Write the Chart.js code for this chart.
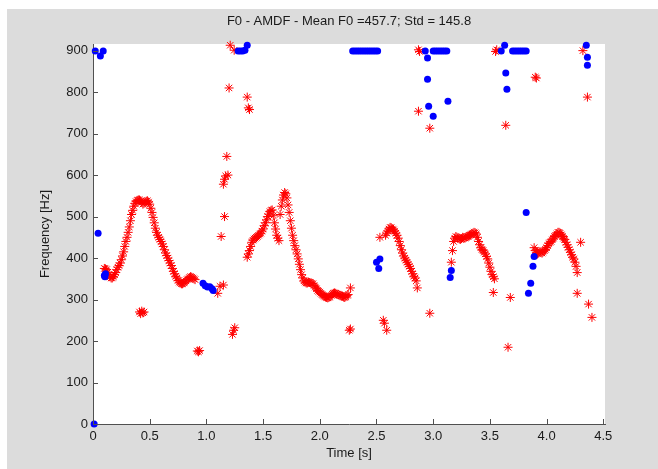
<!DOCTYPE html>
<html>
<head>
<meta charset="utf-8">
<script src="https://cdn.jsdelivr.net/npm/chart.js@4/dist/chart.umd.min.js"></script>
<style>
    body { margin: 0; background: #fff; }
    canvas { display: block; }
</style>
</head>
<body>
<canvas id="f0Chart" width="658" height="469"></canvas>
<script>
// F0 estimates (AMDF) - red stars: picked pitch, blue dots: other candidates
const redTime = [
    0.10, 0.12, 0.14, 0.16, 0.18, 0.20, 0.22, 0.24, 0.26, 0.28, 0.30, 0.32, 0.34, 0.36, 0.38, 0.40, 0.42, 0.44, 0.46, 0.48,
    0.50, 0.52, 0.54, 0.56, 0.58, 0.60, 0.62, 0.64, 0.66, 0.68, 0.70, 0.72, 0.74, 0.76, 0.78, 0.80, 0.82, 0.84, 0.86, 0.88, 0.90,
    0.41, 0.42, 0.43, 0.44, 0.45, 0.92, 0.93, 0.94,
    1.10, 1.12, 1.13, 1.15, 1.16, 1.15, 1.16, 1.17, 1.18, 1.19, 1.20, 1.21, 1.245, 1.23, 1.24, 1.25, 1.36, 1.37, 1.38,
    1.36, 1.38, 1.40, 1.42, 1.44, 1.46, 1.48, 1.50, 1.52, 1.54, 1.56, 1.58, 1.60, 1.62, 1.64, 1.65, 1.67, 1.68, 1.69, 1.70,
    1.71, 1.72, 1.74, 1.76, 1.78, 1.80, 1.82, 1.84, 1.86, 1.88, 1.90, 1.92, 1.94, 1.96, 1.98, 2.00, 2.02, 2.04, 2.06, 2.08,
    2.10, 2.12, 2.14, 2.16, 2.18, 2.20, 2.22, 2.24, 2.27, 2.26, 2.27,
    2.53, 2.58, 2.60, 2.62, 2.64, 2.66, 2.68, 2.70, 2.72, 2.74, 2.76, 2.78, 2.80, 2.82, 2.84, 2.86,
    2.56, 2.57, 2.59, 2.87, 2.88, 2.87, 2.97, 2.97,
    3.16, 3.17, 3.18, 3.20, 3.22, 3.24, 3.26, 3.28, 3.30, 3.32, 3.34, 3.36, 3.38, 3.40, 3.42, 3.44, 3.46, 3.48, 3.50, 3.52,
    3.54, 3.53,
    3.55, 3.56, 3.64, 3.66, 3.68, 3.90, 3.91,
    3.89, 3.90, 3.92, 3.94, 3.96, 3.98, 4.00, 4.02, 4.04, 4.06, 4.08, 4.10, 4.12, 4.14, 4.16, 4.18, 4.20, 4.22, 4.24, 4.26,
    4.27,
    4.30, 4.27, 4.37, 4.40, 4.32, 4.36,
    // in-between frames
    0.11, 0.13, 0.15, 0.17, 0.19, 0.21, 0.23, 0.25, 0.27, 0.29, 0.31, 0.33, 0.35, 0.37, 0.39, 0.41, 0.43, 0.45, 0.47, 0.49,
    0.51, 0.53, 0.55, 0.57, 0.59, 0.61, 0.63, 0.65, 0.67, 0.69, 0.71, 0.73, 0.75, 0.77, 0.79, 0.81, 0.83, 0.85, 0.87, 0.89,
    1.37, 1.39, 1.41, 1.43, 1.45, 1.47, 1.49, 1.51, 1.53, 1.55, 1.57, 1.59, 1.61, 1.63, 1.66, 1.73, 1.75, 1.77, 1.79, 1.81,
    1.83, 1.85, 1.87, 1.89, 1.91, 1.93, 1.95, 1.97, 1.99, 2.01, 2.03, 2.05, 2.07, 2.09, 2.11, 2.13, 2.15, 2.17, 2.19, 2.21,
    2.23, 2.25,
    2.59, 2.61, 2.63, 2.65, 2.67, 2.69, 2.71, 2.73, 2.75, 2.77, 2.79, 2.81, 2.83, 2.85,
    3.19, 3.21, 3.23, 3.25, 3.27, 3.29, 3.31, 3.33, 3.35, 3.37, 3.39, 3.41, 3.43, 3.45, 3.47, 3.49, 3.51, 3.53,
    3.91, 3.93, 3.95, 3.97, 3.99, 4.01, 4.03, 4.05, 4.07, 4.09, 4.11, 4.13, 4.15, 4.17, 4.19, 4.21, 4.23, 4.25
];
const redFreq = [
    375, 372, 360, 352, 355, 365, 378, 388, 405, 428, 450, 475, 505, 525, 536, 540, 538, 530, 535, 538,
    530, 510, 485, 462, 450, 440, 428, 412, 400, 388, 375, 362, 352, 342, 338, 340, 345, 350, 355, 352, 348,
    270, 266, 272, 268, 270, 176, 174, 177,
    315, 332, 452, 335, 500, 578, 590, 598, 645, 600, 810, 913, 901, 216, 226, 232, 788, 762, 758,
    402, 418, 438, 446, 450, 455, 460, 470, 485, 500, 512, 516, 485, 455, 442, 505, 540, 552, 558, 555,
    545, 528, 490, 455, 430, 410, 385, 360, 345, 340, 342, 340, 338, 330, 322, 318, 312, 308, 305, 305,
    310, 315, 315, 312, 310, 308, 305, 310, 328, 226, 229,
    450, 455, 465, 474, 470, 465, 455, 440, 420, 405, 395, 385, 375, 362, 352, 328,
    250, 243, 226, 902, 898, 754, 713, 267,
    390, 418, 440, 452, 448, 445, 450, 448, 452, 455, 458, 462, 458, 440, 425, 418, 410, 398, 378, 360,
    350, 317,
    898, 902, 720, 185, 305, 836, 834,
    425, 418, 410, 415, 412, 418, 425, 435, 440, 448, 455, 462, 460, 452, 445, 432, 420, 408, 398, 380,
    365,
    438, 315, 289, 257, 900, 788,
    // in-between frames
    374, 366, 355, 352, 360, 372, 382, 396, 415, 440, 462, 490, 515, 532, 539, 540, 534, 532, 537, 535,
    520, 498, 472, 455, 445, 434, 420, 406, 394, 382, 368, 356, 346, 340, 338, 342, 348, 353, 354, 350,
    410, 428, 443, 448, 452, 458, 465, 478, 492, 506, 515, 502, 470, 448, 525, 510, 472, 442, 420, 398,
    372, 352, 342, 340, 341, 339, 334, 326, 320, 315, 310, 306, 304, 307, 313, 316, 313, 311, 309, 306,
    307, 312,
    460, 470, 473, 468, 460, 448, 430, 412, 400, 390, 380, 368, 356, 345,
    448, 450, 446, 447, 449, 450, 453, 456, 460, 461, 450, 432, 421, 414, 404, 388, 368, 355,
    414, 412, 414, 415, 421, 430, 438, 444, 452, 458, 462, 456, 448, 438, 426, 414, 402, 390
];

const blueTime = [
    0.01, 0.045, 0.02, 0.09, 0.065, 0.10, 0.11, 0.105,
    0.97, 0.99, 1.01, 1.03, 1.05, 1.06,
    1.28, 1.30, 1.32, 1.34, 1.36,
    2.29, 2.31, 2.33, 2.35, 2.37, 2.39, 2.41, 2.43, 2.45, 2.47, 2.49, 2.51,
    2.50, 2.53, 2.52,
    2.93, 2.95, 2.95, 2.96, 3.00, 3.13,
    3.00, 3.02, 3.04, 3.06, 3.08, 3.10, 3.12,
    3.16, 3.15,
    3.60, 3.63, 3.64, 3.65,
    3.70, 3.72, 3.74, 3.76, 3.78, 3.80, 3.82,
    3.82, 3.89, 3.88, 3.86, 3.84,
    4.35, 4.36, 4.36
];
const blueFreq = [
    0, 460, 899, 899, 887, 358, 362, 355,
    339, 333, 330, 331, 326, 322,
    899, 899, 899, 901, 913,
    899, 899, 899, 899, 899, 899, 899, 899, 899, 899, 899, 899,
    390, 398, 375,
    899, 882, 831, 766, 742, 778,
    899, 899, 899, 899, 899, 899, 899,
    370, 353,
    899, 913, 846, 807,
    899, 899, 899, 899, 899, 899, 899,
    510, 404, 380, 339, 315,
    913, 884, 865
];

const xTicks = [0, 0.5, 1, 1.5, 2, 2.5, 3, 3.5, 4, 4.5];
const yTicks = [0, 100, 200, 300, 400, 500, 600, 700, 800, 900];

function toPoints(t, f) {
    return t.map((v, i) => ({x: v, y: f[i]}));
}

// matlab style figure: grey figure, white axes, ticks pointing inwards
const figureBg = {
    id: 'figureBg',
    beforeDraw(chart) {
        const {ctx, chartArea: a} = chart;
        ctx.save();
        ctx.fillStyle = '#dcdcdc';
        ctx.fillRect(7, 9, chart.width - 7, chart.height - 9);
        ctx.fillStyle = '#ffffff';
        ctx.fillRect(a.left, a.top, a.right - a.left, a.bottom - a.top);
        ctx.restore();
    },
    afterDraw(chart) {
        const {ctx, chartArea: a, scales} = chart;
        ctx.save();
        ctx.strokeStyle = '#505050';
        ctx.lineWidth = 1;
        ctx.beginPath();
        xTicks.forEach(v => {
            const x = Math.round(scales.x.getPixelForValue(v)) + 0.5;
            ctx.moveTo(x, a.bottom);
            ctx.lineTo(x, a.bottom - 5);
        });
        yTicks.forEach(v => {
            const y = Math.round(scales.y.getPixelForValue(v)) + 0.5;
            ctx.moveTo(a.left, y);
            ctx.lineTo(a.left + 5, y);
        });
        ctx.stroke();
        ctx.restore();
    }
};

function veDoThiF0(id) {
    const data = {
        datasets: [{
                label: 'candidates',
                data: toPoints(blueTime, blueFreq),
                pointStyle: 'circle',
                pointRadius: 3.5,
                backgroundColor: '#0000ff',
                borderWidth: 0,
                clip: false
            }, {
                label: 'F0',
                data: toPoints(redTime, redFreq),
                pointStyle: 'star',
                pointRadius: 4.5,
                borderColor: '#ff0000',
                backgroundColor: '#ff0000',
                borderWidth: 1,
                clip: false
            }]
    };

    const tickFont = {family: 'Liberation Sans', size: 13};

    const config = {
        type: 'scatter',
        data: data,
        plugins: [figureBg],
        options: {
            responsive: false,
            animation: false,
            layout: {padding: {left: 0, top: 0, right: 53, bottom: 0}},
            plugins: {
                legend: {display: false},
                tooltip: {enabled: false},
                title: {
                    display: true,
                    text: 'F0 - AMDF - Mean F0 =457.7; Std = 145.8',
                    color: '#1a1a1a',
                    font: {family: 'Liberation Sans', size: 13, weight: 'normal'},
                    fullSize: false,
                    padding: {top: 14, bottom: 14.4}
                }
            },
            scales: {
                x: {
                    type: 'linear',
                    min: 0,
                    max: 4.515,
                    afterFit(scale) { scale.height = 45; },
                    afterBuildTicks(scale) { scale.ticks = xTicks.map(v => ({value: v})); },
                    grid: {display: false, drawTicks: false},
                    border: {display: true, color: '#505050', width: 1},
                    ticks: {font: tickFont, color: '#1a1a1a', padding: 5, maxRotation: 0},
                    title: {
                        display: true,
                        text: 'Time [s]',
                        color: '#1a1a1a',
                        font: tickFont,
                        padding: {top: 0, bottom: 8}
                    }
                },
                y: {
                    type: 'linear',
                    min: 0,
                    max: 916,
                    afterFit(scale) { scale.width = 93; },
                    afterBuildTicks(scale) { scale.ticks = yTicks.map(v => ({value: v})); },
                    grid: {display: false, drawTicks: false},
                    border: {display: true, color: '#505050', width: 1},
                    ticks: {font: tickFont, color: '#1a1a1a', padding: 5},
                    title: {
                        display: true,
                        text: 'Frequency [Hz]',
                        color: '#1a1a1a',
                        font: tickFont,
                        padding: {top: 38, bottom: 0}
                    }
                }
            }
        }
    };

    let ctx = document.getElementById(id).getContext("2d")

    new Chart(ctx, config)
}

veDoThiF0('f0Chart');
</script>
</body>
</html>
